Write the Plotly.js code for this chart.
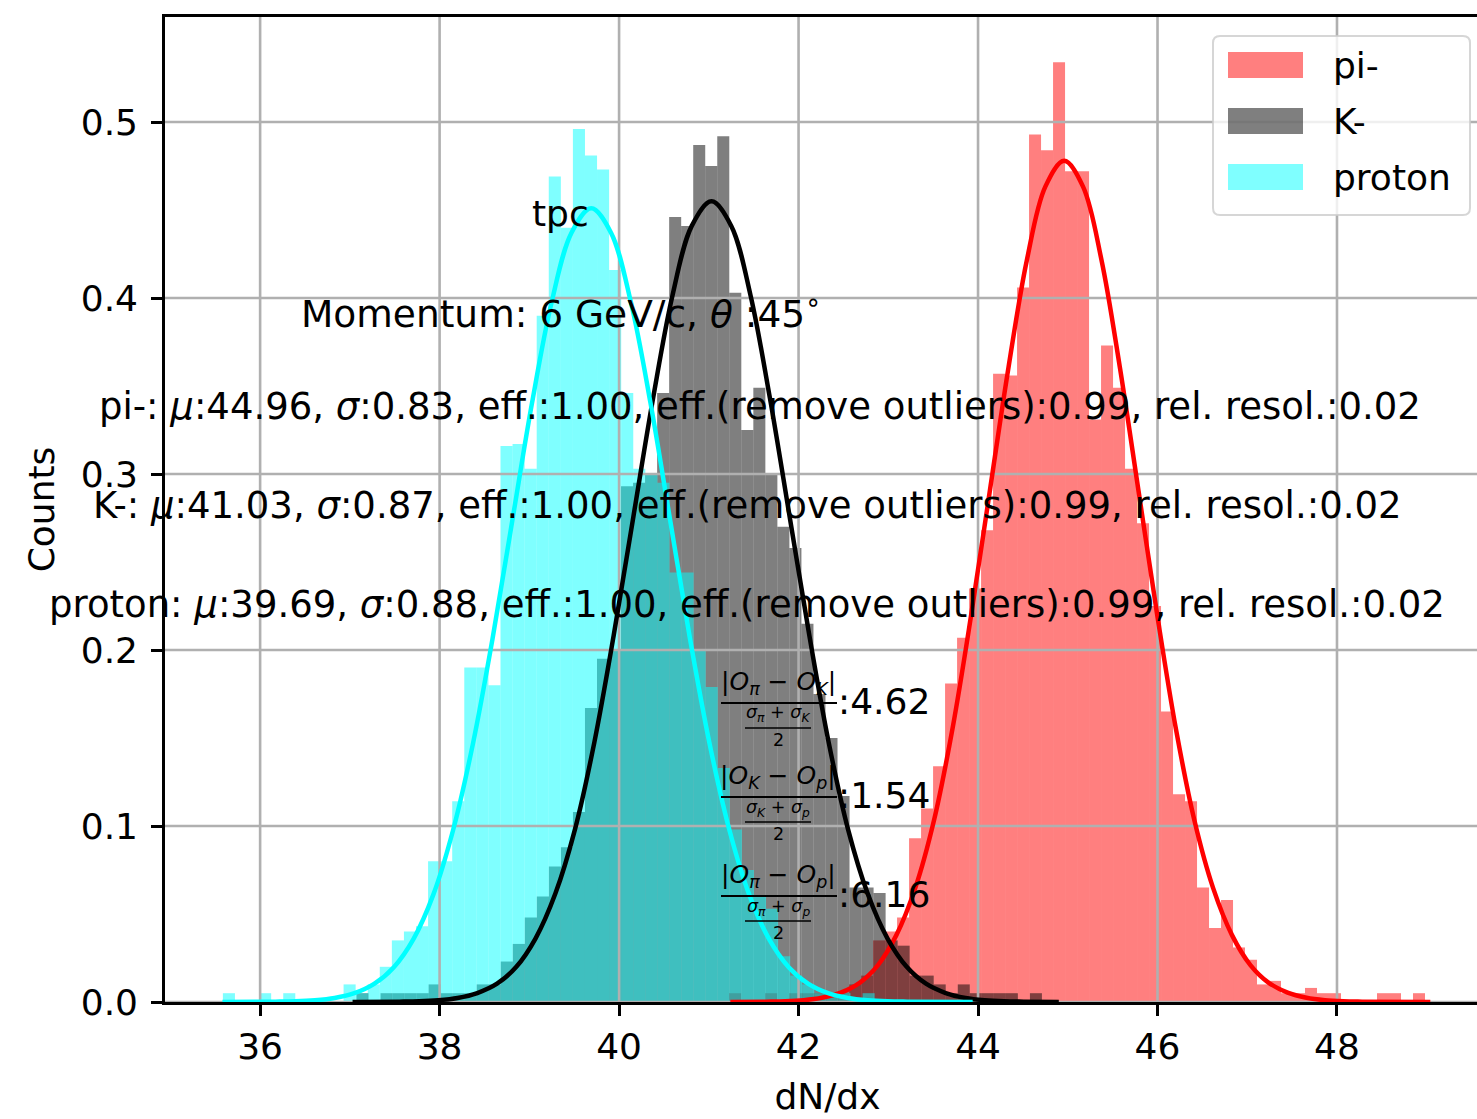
<!DOCTYPE html>
<html><head><meta charset="utf-8">
<script src="https://cdn.plot.ly/plotly-3.0.1.min.js"></script>
<style>html,body{margin:0;padding:0;overflow:hidden;background:#fff}#chart{width:1492px;height:1119px}</style>
</head><body><div id="chart"></div>
<script>
// ---------------- data ----------------
const particleNames = ['pi-', 'K-', 'proton'];
const fitMu = [44.96, 41.03, 39.69];
const fitSigma = [0.83, 0.87, 0.88];
const effValues = ['1.00', '1.00', '1.00'];
const effOutlierValues = ['0.99', '0.99', '0.99'];
const relResolValues = ['0.02', '0.02', '0.02'];

// histogram bins (normalised counts)
const piBinStart = 41.226, piBinWidth = 0.1337;
const piCounts = [0.005, 0, 0, 0.005, 0, 0.005, 0.005, 0.005, 0.005, 0.005,
  0.010, 0.015, 0.035, 0.040, 0.048, 0.093, 0.110, 0.134, 0.181, 0.207,
  0.235, 0.268, 0.357, 0.356, 0.406, 0.493, 0.484, 0.534, 0.472, 0.472,
  0.331, 0.373, 0.349, 0.303, 0.272, 0.225, 0.165, 0.118, 0.114, 0.065,
  0.042, 0.058, 0.031, 0.024, 0.010, 0.012, 0.005, 0.005, 0.008, 0.005,
  0.005, 0, 0, 0, 0.005, 0.005, 0, 0.005, 0, 0];

const kBinStart = 37.074, kBinWidth = 0.134;
const kCounts = [0.005, 0, 0.005, 0.005, 0.005, 0.005, 0.010, 0.005, 0.005, 0.005,
  0.010, 0.010, 0.023, 0.033, 0.048, 0.060, 0.077, 0.088, 0.108, 0.167,
  0.195, 0.200, 0.293, 0.295, 0.300, 0.346, 0.446, 0.441, 0.487, 0.475,
  0.492, 0.403, 0.325, 0.349, 0.300, 0.270, 0.258, 0.215, 0.175, 0.150,
  0.117, 0.065, 0.065, 0.062, 0.035, 0.032, 0.015, 0.015, 0.010, 0.005,
  0.010, 0.005, 0.005, 0.005, 0.005, 0, 0.005, 0, 0, 0];

const protonBinStart = 35.585, protonBinWidth = 0.1345;
const protonCounts = [0.005, 0, 0, 0.005, 0, 0.005, 0, 0, 0, 0,
  0.010, 0.005, 0.010, 0.020, 0.035, 0.040, 0.043, 0.080, 0.080, 0.114,
  0.190, 0.190, 0.180, 0.316, 0.317, 0.303, 0.390, 0.469, 0.440, 0.496,
  0.481, 0.473, 0.416, 0.346, 0.303, 0.300, 0.295, 0.244, 0.244, 0.200,
  0.179, 0.133, 0.098, 0.075, 0.060, 0.053, 0.026, 0.015, 0.010, 0.005,
  0.005, 0.005, 0, 0.005, 0, 0, 0, 0, 0, 0];

// fitted curves
const piFitX = [41.24, 41.64, 41.85, 42.055, 42.26, 42.47, 42.68, 42.885, 43.09, 43.30, 43.51, 43.715, 43.92, 44.13, 44.34, 44.545, 44.75, 44.96, 45.17, 45.375, 45.58, 45.79, 46.00, 46.205, 46.41, 46.62, 46.83, 47.035, 47.24, 47.45, 47.66, 47.865, 48.07, 48.28, 49.04];
const piFitY = [0, 0.0002, 0.0004, 0.0010, 0.0024, 0.0053, 0.0109, 0.0210, 0.0380, 0.0647, 0.1034, 0.1552, 0.2188, 0.2899, 0.3608, 0.4218, 0.4633, 0.4780, 0.4633, 0.4218, 0.3608, 0.2899, 0.2188, 0.1552, 0.1034, 0.0647, 0.0380, 0.0210, 0.0109, 0.0053, 0.0024, 0.0010, 0.0004, 0.0002, 0];
const kFitX = [37.03, 37.55, 37.77, 37.985, 38.20, 38.42, 38.64, 38.855, 39.07, 39.29, 39.51, 39.725, 39.94, 40.16, 40.38, 40.595, 40.81, 41.03, 41.25, 41.465, 41.68, 41.90, 42.12, 42.335, 42.55, 42.77, 42.99, 43.205, 43.42, 43.64, 43.86, 44.075, 44.29, 44.51, 44.90];
const kFitY = [0, 0.0002, 0.0004, 0.0010, 0.0023, 0.0051, 0.0104, 0.0200, 0.0362, 0.0616, 0.0984, 0.1477, 0.2083, 0.2760, 0.3434, 0.4015, 0.4410, 0.4550, 0.4410, 0.4015, 0.3434, 0.2760, 0.2083, 0.1477, 0.0984, 0.0616, 0.0362, 0.0200, 0.0104, 0.0051, 0.0023, 0.0010, 0.0004, 0.0002, 0];
const protonFitX = [35.58, 36.17, 36.39, 36.61, 36.83, 37.05, 37.27, 37.49, 37.71, 37.93, 38.15, 38.37, 38.59, 38.81, 39.03, 39.25, 39.47, 39.69, 39.91, 40.13, 40.35, 40.57, 40.79, 41.01, 41.23, 41.45, 41.67, 41.89, 42.11, 42.33, 42.55, 42.77, 42.99, 43.21, 43.94];
const protonFitY = [0, 0.0002, 0.0004, 0.0010, 0.0023, 0.0050, 0.0103, 0.0198, 0.0359, 0.0610, 0.0976, 0.1464, 0.2065, 0.2735, 0.3404, 0.3980, 0.4371, 0.4510, 0.4371, 0.3980, 0.3404, 0.2735, 0.2065, 0.1464, 0.0976, 0.0610, 0.0359, 0.0198, 0.0103, 0.0050, 0.0023, 0.0010, 0.0004, 0.0002, 0];

// separation power annotations
const sepNumerators = ['|<i>O</i><sub><i>π</i></sub> − <i>O</i><sub><i>K</i></sub>|', '|<i>O</i><sub><i>K</i></sub> − <i>O</i><sub><i>p</i></sub>|', '|<i>O</i><sub><i>π</i></sub> − <i>O</i><sub><i>p</i></sub>|'];
const sepDenominators = ['<i>σ</i><sub><i>π</i></sub> + <i>σ</i><sub><i>K</i></sub>', '<i>σ</i><sub><i>K</i></sub> + <i>σ</i><sub><i>p</i></sub>', '<i>σ</i><sub><i>π</i></sub> + <i>σ</i><sub><i>p</i></sub>'];
const sepValues = ['4.62', '1.54', '6.16'];

const xTickValues = [36, 38, 40, 42, 44, 46, 48];
const yTickValues = [0.0, 0.1, 0.2, 0.3, 0.4, 0.5];

// ---------------- layout / style ----------------
const W = 1492, H = 1119;
const M = {l: 165, r: 2, t: 17, b: 117};
const xRange = [34.94, 49.705];
const yRange = [0, 0.5597];
const FONT = 'DejaVu Sans';
const FS = 36;
const plotW = W - M.l - M.r, plotH = H - M.t - M.b;
const px2x = px => (px - M.l) / plotW;          // pixel -> paper
const py2y = py => (H - M.b - py) / plotH;

const colors = {pi: 'rgba(255,0,0,0.5)', k: 'rgba(0,0,0,0.5)', proton: 'rgba(0,255,255,0.5)'};
const lineColors = {pi: '#ff0000', k: '#000000', proton: '#00ffff'};

function barTrace(start, width, heights, color, name) {
  return {
    type: 'bar', name: name,
    x: heights.map((_, i) => start + (i + 0.5) * width),
    y: heights, width: width,
    marker: {color: color, line: {width: 0}},
    hoverinfo: 'skip', showlegend: false
  };
}
function fitTrace(xs, ys, color, name) {
  return {type: 'scatter', mode: 'lines', x: xs, y: ys, name: name,
    line: {color: color, width: 4.5, shape: 'spline', smoothing: 1},
    hoverinfo: 'skip', showlegend: false};
}

// grid drawn above bars but below fit lines (as in matplotlib)
const gx = [], gy = [];
xTickValues.forEach(v => { gx.push(v, v, null); gy.push(yRange[0], yRange[1], null); });
yTickValues.forEach(v => { gx.push(xRange[0], xRange[1], null); gy.push(v, v, null); });
const gridTrace = {type: 'scatter', mode: 'lines', x: gx, y: gy,
  line: {color: '#b0b0b0', width: 2.6}, hoverinfo: 'skip', showlegend: false};

const data = [
  barTrace(piBinStart, piBinWidth, piCounts, colors.pi, particleNames[0]),
  barTrace(kBinStart, kBinWidth, kCounts, colors.k, particleNames[1]),
  barTrace(protonBinStart, protonBinWidth, protonCounts, colors.proton, particleNames[2]),
  gridTrace,
  fitTrace(piFitX, piFitY, lineColors.pi, particleNames[0] + ' fit'),
  fitTrace(kFitX, kFitY, lineColors.k, particleNames[1] + ' fit'),
  fitTrace(protonFitX, protonFitY, lineColors.proton, particleNames[2] + ' fit')
];

function ann(text, px, py, size, xanchor, yanchor) {
  return {text: text, x: px2x(px), y: py2y(py), xref: 'paper', yref: 'paper',
    showarrow: false, xanchor: xanchor || 'center', yanchor: yanchor || 'middle',
    font: {family: FONT, size: size, color: '#000'}};
}

const annotations = [];
const shapes = [];
annotations.push(ann('tpc', 560, 213, FS));
annotations.push(ann('Momentum: 6 GeV/c, <i>θ</i> :45<sup>∘</sup>', 561, 311, 37.5));
const rowPos = [[760, 407], [747, 505], [747, 604]];
particleNames.forEach((n, i) => {
  const t = n + ': <i>μ</i>:' + fitMu[i].toFixed(2) + ', <i>σ</i>:' + fitSigma[i].toFixed(2) +
    ', eff.:' + effValues[i] + ', eff.(remove outliers):' + effOutlierValues[i] +
    ', rel. resol.:' + relResolValues[i];
  annotations.push(ann(t, rowPos[i][0], rowPos[i][1], 37));
});

// fractions
const fracY = [703, 797, 896];
fracY.forEach((Y, i) => {
  annotations.push(ann(sepNumerators[i], 778, Y - 20, 25));
  annotations.push(ann(sepDenominators[i], 778, Y + 11, 17.5));
  annotations.push(ann('2', 778, Y + 37, 17.5));
  annotations.push(ann(':' + sepValues[i], 836, Y - 2, FS, 'left'));
  shapes.push({type: 'line', xref: 'paper', yref: 'paper', x0: px2x(721), x1: px2x(837),
    y0: py2y(Y), y1: py2y(Y), line: {color: '#000', width: 2}, layer: 'above'});
  shapes.push({type: 'line', xref: 'paper', yref: 'paper', x0: px2x(745), x1: px2x(811),
    y0: py2y(Y + 25), y1: py2y(Y + 25), line: {color: '#000', width: 1.5}, layer: 'above'});
});

// legend (matplotlib style)
(function () {
  const x1 = px2x(1213), x2 = px2x(1470), yt = py2y(36), yb = py2y(215);
  const rx = 7 / plotW, ry = 7 / plotH;
  const path = `M ${x1 + rx},${yt} L ${x2 - rx},${yt} Q ${x2},${yt} ${x2},${yt - ry} L ${x2},${yb + ry} Q ${x2},${yb} ${x2 - rx},${yb} L ${x1 + rx},${yb} Q ${x1},${yb} ${x1},${yb + ry} L ${x1},${yt - ry} Q ${x1},${yt} ${x1 + rx},${yt} Z`;
  shapes.push({type: 'path', path: path, xref: 'paper', yref: 'paper',
    fillcolor: 'rgba(255,255,255,0.8)', line: {color: 'rgba(204,204,204,0.8)', width: 2}, layer: 'above'});
  const patchColors = [colors.pi, colors.k, colors.proton];
  const rowsY = [65, 121, 177];
  particleNames.forEach((n, i) => {
    shapes.push({type: 'rect', xref: 'paper', yref: 'paper', x0: px2x(1228), x1: px2x(1303),
      y0: py2y(rowsY[i] - 13), y1: py2y(rowsY[i] + 13), fillcolor: patchColors[i],
      line: {width: 0}, layer: 'above'});
    annotations.push(ann(n, 1331, rowsY[i], FS, 'left'));
  });
})();

const axisCommon = {
  showgrid: false, zeroline: false, showline: true, mirror: true,
  linecolor: '#000', linewidth: 2.6, ticks: 'outside', ticklen: 11, tickwidth: 2.6,
  tickcolor: '#000', tickfont: {family: FONT, size: FS, color: '#000'}
};

const layout = {
  width: W, height: H, margin: M, paper_bgcolor: '#fff', plot_bgcolor: '#fff',
  font: {family: FONT, size: FS, color: '#000'},
  barmode: 'overlay', showlegend: false,
  xaxis: Object.assign({}, axisCommon, {range: xRange, tickvals: xTickValues,
    ticktext: xTickValues.map(v => String(v)),
    title: {text: 'dN/dx', font: {family: FONT, size: FS, color: '#000'}, standoff: 18}}),
  yaxis: Object.assign({}, axisCommon, {range: yRange, tickvals: yTickValues,
    ticktext: yTickValues.map(v => v.toFixed(1)), ticklabelstandoff: 6,
    title: {text: 'Counts', font: {family: FONT, size: FS, color: '#000'}, standoff: 16}}),
  annotations: annotations, shapes: shapes
};

Plotly.newPlot('chart', data, layout, {displayModeBar: false});
</script>
</body></html>
